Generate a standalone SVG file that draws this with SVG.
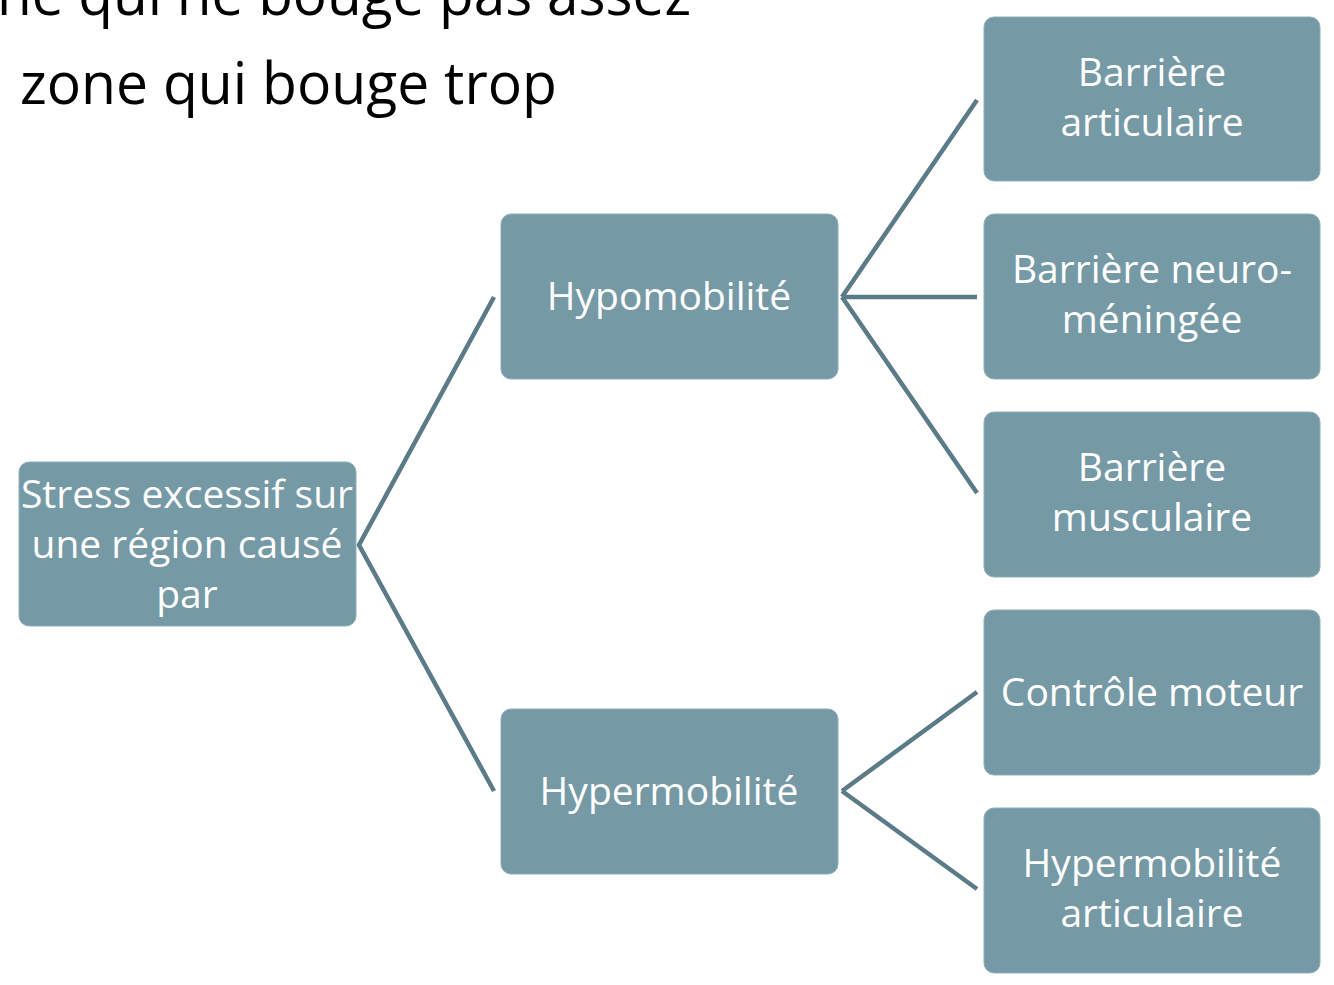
<svg xmlns="http://www.w3.org/2000/svg" width="1334" height="985" viewBox="0 0 1334 985">
<style>
.box{fill:#7599a5;stroke:#8fb0bb;stroke-width:1}
.lbl{font-family:"Open Sans","Liberation Sans",sans-serif;font-size:39px;fill:#ffffff;text-anchor:middle}
.top{font-family:"Open Sans","Liberation Sans",sans-serif;font-size:58px;fill:#000000}
.con{stroke:#5a7b87;stroke-width:4.5;fill:none}
</style>
<rect width="1334" height="985" fill="#ffffff"/>
<text class="top" x="-3" y="15" textLength="694" lengthAdjust="spacingAndGlyphs">ne qui ne bouge pas assez</text>
<text class="top" x="20" y="104" textLength="537" lengthAdjust="spacingAndGlyphs">zone qui bouge trop</text>
<g id="connectors">
<polyline class="con" points="494,297 359,545 494,791"/>
<line class="con" x1="842" y1="297" x2="977" y2="100"/>
<line class="con" x1="842" y1="297" x2="977" y2="297"/>
<line class="con" x1="842" y1="297" x2="977" y2="493"/>
<line class="con" x1="842" y1="791" x2="977" y2="692"/>
<line class="con" x1="842" y1="791" x2="977" y2="889"/>
</g>
<g id="root"><rect class="box" x="19" y="462" width="337" height="164" rx="10"/>
<text class="lbl" x="187" y="508">Stress excessif sur</text><text class="lbl" x="187" y="558">une région causé</text><text class="lbl" x="187" y="608">par</text></g>
<g id="hypo"><rect class="box" x="501" y="214" width="337" height="165" rx="10"/>
<text class="lbl" x="669" y="310">Hypomobilité</text></g>
<g id="hyper"><rect class="box" x="501" y="709" width="337" height="165" rx="10"/>
<text class="lbl" x="669" y="805">Hypermobilité</text></g>
<g id="b-art"><rect class="box" x="984" y="17" width="336" height="164" rx="10"/>
<text class="lbl" x="1152" y="86">Barrière</text><text class="lbl" x="1152" y="136">articulaire</text></g>
<g id="b-neuro"><rect class="box" x="984" y="214" width="336" height="165" rx="10"/>
<text class="lbl" x="1152" y="283">Barrière neuro-</text><text class="lbl" x="1152" y="333">méningée</text></g>
<g id="b-musc"><rect class="box" x="984" y="412" width="336" height="165" rx="10"/>
<text class="lbl" x="1152" y="481">Barrière</text><text class="lbl" x="1152" y="531">musculaire</text></g>
<g id="ctrl"><rect class="box" x="984" y="610" width="336" height="165" rx="10"/>
<text class="lbl" x="1152" y="706">Contrôle moteur</text></g>
<g id="hyper-art"><rect class="box" x="984" y="808" width="336" height="165" rx="10"/>
<text class="lbl" x="1152" y="877">Hypermobilité</text><text class="lbl" x="1152" y="927">articulaire</text></g>
</svg>
